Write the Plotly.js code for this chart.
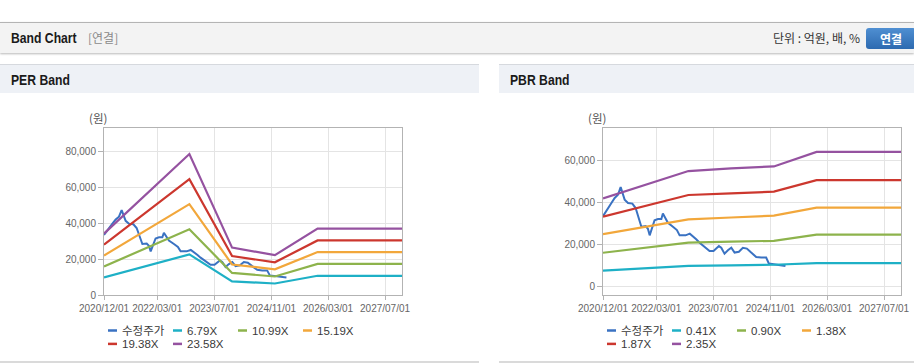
<!DOCTYPE html>
<html>
<head>
<meta charset="utf-8">
<script src="https://cdn.plot.ly/plotly-3.0.1.min.js"></script>
<style>
html,body{margin:0;padding:0;width:914px;height:364px;overflow:hidden;background:#fff;font-family:"Noto Sans CJK KR","Liberation Sans",sans-serif;}
.topbar{position:absolute;left:0;top:22px;width:914px;height:30px;background:#f3f3f3;border-top:1px solid #b4b4b4;box-shadow:0 1px 2px rgba(0,0,0,0.28);}
.ttl{position:absolute;left:11px;top:0;height:30px;line-height:31px;font-weight:bold;font-size:14.5px;font-family:"Liberation Sans",Arial,sans-serif;color:#1a1a1a;transform:scaleX(0.84);transform-origin:left center;white-space:nowrap;}
.sub{position:absolute;left:88px;top:0;height:30px;line-height:30px;font-size:12px;color:#8a8a8a;}
.unit{position:absolute;right:54px;top:0;height:30px;line-height:30px;font-size:12px;color:#333;}
.btn{position:absolute;left:866px;top:5px;width:50px;height:21px;line-height:21px;text-align:center;border-radius:3px;background:linear-gradient(#4f8fd2,#2d6ab0);color:#fff;font-weight:bold;font-size:12px;}
.panel{position:absolute;top:64px;height:297px;border-bottom:2px solid #dadada;}
.phead{position:absolute;left:0;top:0;right:0;height:28px;background:#eef1f6;border-top:1px solid #d6d9de;}
.phead span{position:absolute;left:11px;top:0;height:28px;line-height:30px;font-weight:bold;font-size:14.5px;font-family:"Liberation Sans",Arial,sans-serif;color:#1a1a1a;transform:scaleX(0.84);transform-origin:left center;white-space:nowrap;}
.chart{position:absolute;left:0;top:29px;}
</style>
</head>
<body>
<div class="topbar">
  <div class="ttl">Band Chart</div>
  <div class="sub">[연결]</div>
  <div class="unit">단위 : 억원, 배, %</div>
  <div class="btn">연결</div>
</div>
<div class="panel" style="left:0;width:479px;">
  <div class="phead"><span>PER Band</span></div>
  <div class="chart" id="per"></div>
</div>
<div class="panel" style="left:499px;width:415px;">
  <div class="phead"><span>PBR Band</span></div>
  <div class="chart" id="pbr"></div>
</div>
<script>
// ---- data ----
const xTickDates = ['2020-12-01','2022-03-01','2023-07-01','2024-11-01','2026-03-01','2027-07-01'];
const xTickLabels = ['2020/12/01','2022/03/01','2023/07/01','2024/11/01','2026/03/01','2027/07/01'];
const xRange = ['2020-12-01','2027-11-23'];

const priceDates = ['2020-12-01','2020-12-30','2021-02-11','2021-03-11','2021-04-08','2021-05-01','2021-05-16','2021-06-04',
 '2021-07-03','2021-08-09','2021-09-06','2021-09-26','2021-10-25','2021-12-01','2021-12-20','2022-01-04','2022-01-27',
 '2022-02-15','2022-03-16','2022-04-14','2022-04-27','2022-05-18','2022-06-09','2022-07-22','2022-08-25','2022-09-17',
 '2022-11-07','2022-12-13','2023-01-09','2023-02-06','2023-03-07','2023-04-18','2023-05-31','2023-07-04','2023-08-19',
 '2023-09-08','2023-10-06','2023-11-04','2023-12-03','2023-12-31','2024-02-06','2024-03-11','2024-04-14','2024-05-21',
 '2024-07-03','2024-08-15','2024-09-26','2024-10-19','2024-12-21','2025-02-02','2025-03-10'];
const priceValues = [33400,35700,39700,42100,43600,47300,44400,41300,
 39700,39400,37300,33400,28400,28700,27400,24300,28700,
 31500,32100,32100,34700,32600,30300,28400,26800,24300,
 24300,25100,23900,22400,20800,18700,16800,16800,19200,
 18400,15600,17200,18400,16100,16500,18400,18000,16100,
 14000,13700,13700,10900,10500,10200,9700];

const perNames = ['수정주가','6.79X','10.99X','15.19X','19.38X','23.58X'];
const perDates = ['2020-12-01','2022-12-01','2023-12-01','2024-12-01','2025-12-01','2027-11-23'];
const per679  = [9800, 22600, 7600, 6400, 10700, 10700];
const per1099 = [15900, 36600, 12300, 10300, 17300, 17300];
const per1519 = [22000, 50600, 17000, 14300, 23900, 23900];
const per1938 = [28000, 64500, 21700, 18200, 30400, 30400];
const per2358 = [34200, 78500, 26400, 22200, 37000, 37000];
const perYTicks = [0, 20000, 40000, 60000, 80000];

const pbrNames = ['수정주가','0.41X','0.90X','1.38X','1.87X','2.35X'];
const pbrDates = ['2020-12-01','2022-12-01','2023-12-01','2024-12-01','2025-12-01','2027-11-23'];
const pbr041 = [7500, 9800, 10000, 10300, 11100, 11100];
const pbr090 = [16000, 20800, 21300, 21700, 24600, 24600];
const pbr138 = [24900, 31900, 32800, 33700, 37500, 37500];
const pbr187 = [33200, 43500, 44300, 45100, 50600, 50600];
const pbr235 = [41900, 54900, 56200, 57100, 64000, 64000];
const pbrYTicks = [0, 20000, 40000, 60000];

const yUnitLabel = '(원)';

// ---- styles ----
const colors = ['#3a72c2','#1eb0c6','#8db34c','#f2a73b','#cc372e','#9552a0'];
const tickFont = {family:'"Liberation Sans", Arial, sans-serif', size:10, color:'#666'};

function build(divId, W, H, m, names, bandDates, bands, yRange, yTicks) {
  const pw = W - m.l - m.r, ph = H - m.t - m.b;
  const px = x => (x - m.l) / pw;
  const py = y => 1 - (y - m.t) / ph;
  const traces = [{
    x: priceDates, y: priceValues, type:'scatter', mode:'lines', name:names[0],
    line:{color:colors[0], width:2}, hoverinfo:'skip'
  }];
  bands.forEach((b, i) => traces.push({
    x: bandDates, y: b, type:'scatter', mode:'lines', name:names[i+1],
    line:{color:colors[i+1], width:2.2}, hoverinfo:'skip'
  }));
  const shapes = [], annotations = [];
  names.forEach((n, i) => {
    const col = i % 4, row = Math.floor(i / 4);
    const lx = m.l + 4 + col * 65;
    const ly = 237.5 + row * 13.4;
    shapes.push({type:'line', xref:'paper', yref:'paper', x0:px(lx), x1:px(lx+9), y0:py(ly), y1:py(ly),
      line:{color:colors[i], width:2.5}});
    annotations.push({xref:'paper', yref:'paper', x:px(lx+12), y:py(ly), xanchor:'left', yanchor:'middle',
      text:n, showarrow:false, font:{family:'"Liberation Sans", "Noto Sans CJK KR", sans-serif', size:11.5, color:'#3a3a3a'}});
  });
  annotations.push({xref:'paper', yref:'paper', x:px(m.l-6), y:py(m.t-10), xanchor:'center', yanchor:'middle',
    text:yUnitLabel, showarrow:false, font:{family:'"Noto Sans CJK KR", sans-serif', size:11.5, color:'#555'}});
  const axisCommon = {showgrid:true, gridcolor:'#e4e4e4', gridwidth:1, showline:true, linecolor:'#b3b3b3', linewidth:1,
    mirror:true, ticks:'outside', tickcolor:'#b3b3b3', zeroline:false, fixedrange:true, tickfont:tickFont};
  const layout = {
    width:W, height:H, margin:m, showlegend:false,
    paper_bgcolor:'rgba(0,0,0,0)', plot_bgcolor:'#fff',
    xaxis:Object.assign({}, axisCommon, {type:'date', range:xRange, tickmode:'array', tickvals:xTickDates, ticktext:xTickLabels, ticklen:4}),
    yaxis:Object.assign({}, axisCommon, {range:yRange, tickmode:'array', tickvals:yTicks, tickformat:',d', ticklen:5}),
    shapes:shapes, annotations:annotations
  };
  Plotly.newPlot(divId, traces, layout, {displayModeBar:false, staticPlot:true});
}

build('per', 479, 268, {l:104, r:77, t:35, b:66}, perNames, perDates,
  [per679, per1099, per1519, per1938, per2358], [0, 93000], perYTicks);
build('pbr', 415, 268, {l:104, r:13, t:35, b:66}, pbrNames, pbrDates,
  [pbr041, pbr090, pbr138, pbr187, pbr235], [-4100, 75400], pbrYTicks);
</script>
</body>
</html>
